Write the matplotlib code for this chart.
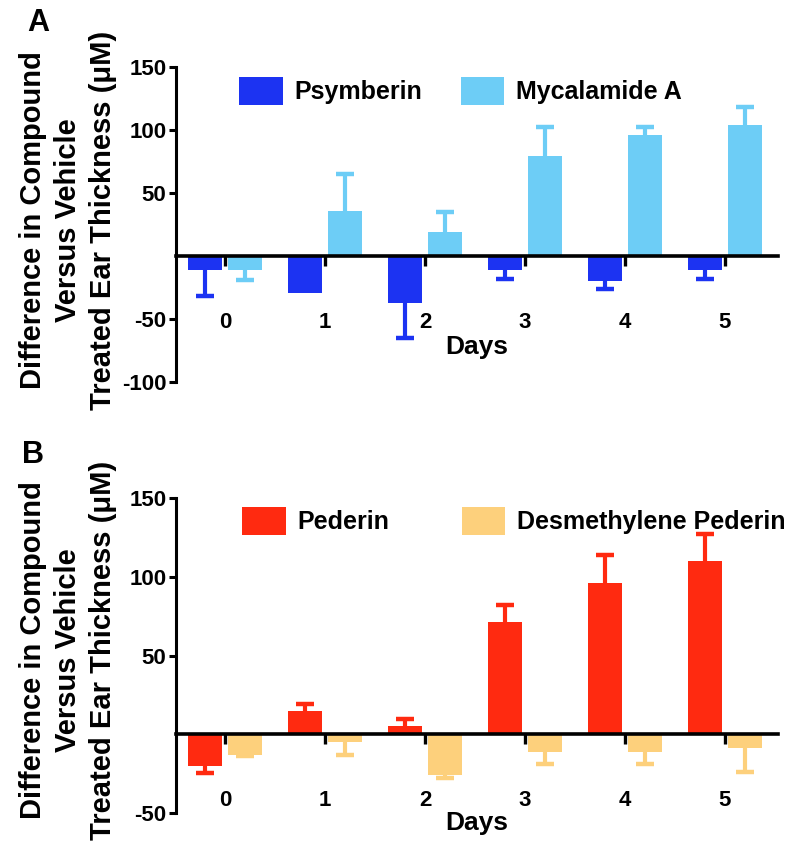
import matplotlib
matplotlib.use('Agg')
import matplotlib.pyplot as plt
from matplotlib.patches import Patch
import numpy as np

plt.rcParams['font.family'] = ['Liberation Sans', 'DejaVu Sans']
plt.rcParams['font.weight'] = 'bold'

days = [0, 1, 2, 3, 4, 5]
day_labels = ['0', '1', '2', '3', '4', '5']

# Panel A
psymberin = [-11, -29, -37, -11, -20, -11]
psymberin_err = [21, 0, 28, 7, 6, 7]
mycalamide = [-11, 36, 19, 79, 96, 104]
mycalamide_err = [8, 29, 16, 23, 6, 14]

# Panel B
pederin = [-20, 15, 5, 71, 96, 110]
pederin_err = [4.5, 4, 5, 11, 18, 17]
desmethylene = [-13, -5, -26, -11, -11, -9]
desmethylene_err = [1, 8, 1.5, 8, 8, 15]

c_psy = '#1c33f2'
c_myc = '#6dcdf6'
c_ped = '#ff2a10'
c_des = '#fdd07c'

ylabel_lines = ['Difference in Compound', 'Versus Vehicle', 'Treated Ear Thickness (\u03bcM)']

fig = plt.figure(figsize=(8, 8.51), dpi=100)

W, H = 800, 851


def make_axes(left_px, top_px, right_px, bottom_px):
    return fig.add_axes([left_px / W, 1 - bottom_px / H, (right_px - left_px) / W, (bottom_px - top_px) / H])


def draw_panel(ax, s1, e1, c1, n1, s2, e2, c2, n2, ylim, yticks, leg_anchor, colsp, days_y):
    x = np.array(days, dtype=float)
    w = 0.34
    off = 0.2
    for vals, errs, col, sh in [(s1, e1, c1, -off), (s2, e2, c2, off)]:
        vals = np.array(vals, dtype=float)
        errs = np.array(errs, dtype=float)
        ax.bar(x + sh, vals, width=w, color=col, zorder=2)
        sign = np.where(vals < 0, -1.0, 1.0)
        lower = np.where(vals < 0, errs, 0)
        upper = np.where(vals >= 0, errs, 0)
        ax.errorbar(x + sh, vals, yerr=[lower, upper], fmt='none', ecolor=col,
                    elinewidth=3, capsize=0, zorder=1)
        m = errs > 0
        ax.plot((x + sh)[m], (vals + sign * errs)[m], linestyle='none', marker='_',
                markersize=13, markeredgewidth=3.2, color=col, zorder=1)
    ax.set_xlim(-0.49, 5.53)
    ax.set_ylim(*ylim)
    ax.set_yticks(yticks)
    ax.set_yticklabels([str(t) for t in yticks])
    ax.spines['top'].set_visible(False)
    ax.spines['right'].set_visible(False)
    ax.spines['bottom'].set_position(('data', 0))
    ax.spines['bottom'].set_linewidth(2.6)
    ax.spines['bottom'].set_zorder(3)
    ax.spines['left'].set_linewidth(2.2)
    ax.set_xticks(x)
    ax.set_xticklabels(day_labels)
    ax.tick_params(axis='x', direction='out', length=7, width=2.4, pad=33, labelsize=16)
    ax.tick_params(axis='y', direction='out', length=5, width=2.2, pad=2, labelsize=16)
    for lab in ax.get_xticklabels() + ax.get_yticklabels():
        lab.set_fontweight('bold')
    ax.text(0.5, days_y, 'Days', transform=ax.transAxes, ha='center', va='center',
            fontsize=19, fontweight='bold')
    handles = [Patch(facecolor=c1, edgecolor='none', label=n1),
               Patch(facecolor=c2, edgecolor='none', label=n2)]
    ax.legend(handles=handles, ncol=2, frameon=False, loc='center left',
              bbox_to_anchor=leg_anchor, borderpad=0, borderaxespad=0,
              handlelength=1.75, handleheight=1.4, handletextpad=0.45,
              columnspacing=colsp, prop={'size': 18, 'weight': 'bold'})
    return ax


axA = make_axes(176, 67, 778, 382)
draw_panel(axA, psymberin, psymberin_err, c_psy, 'Psymberin',
           mycalamide, mycalamide_err, c_myc, 'Mycalamide A',
           (-100, 150), [-100, -50, 50, 100, 150], (0.105, 0.924), 1.55, 0.111)

axB = make_axes(176, 498, 778, 813)
draw_panel(axB, pederin, pederin_err, c_ped, 'Pederin',
           desmethylene, desmethylene_err, c_des, 'Desmethylene Pederin',
           (-50, 150), [-50, 50, 100, 150], (0.11, 0.927), 2.9, -0.032)

# y labels (three lines each)
for yc in [220, 650]:
    for xi, line in zip([33, 68, 103], ylabel_lines):
        fig.text(xi / W, 1 - yc / H, line, rotation=90, ha='center', va='center',
                 fontsize=21, fontweight='bold')

fig.text(38 / W, 1 - 23 / H, 'A', ha='center', va='center', fontsize=22, fontweight='bold')
fig.text(33 / W, 1 - 455 / H, 'B', ha='center', va='center', fontsize=22, fontweight='bold')

fig.savefig('out.png', dpi=100)
